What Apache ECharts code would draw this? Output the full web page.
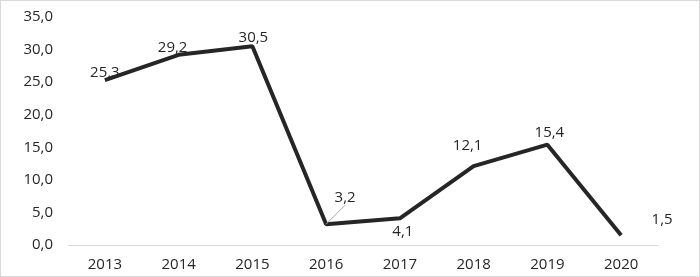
<!DOCTYPE html>
<html>
<head>
<meta charset="utf-8">
<script src="https://cdn.jsdelivr.net/npm/echarts@6.0.0/dist/echarts.min.js"></script>
<style>
  html, body { margin: 0; padding: 0; background: #fff; }
  #chart { width: 698px; height: 275px; border: 1px solid #d9d9d9; }
</style>
</head>
<body>
<div id="chart"></div>
<script>
// данные графика
const years = ['2013', '2014', '2015', '2016', '2017', '2018', '2019', '2020'];
const values = [25.3, 29.2, 30.5, 3.2, 4.1, 12.1, 15.4, 1.5];
// смещения подписей относительно точки
const labelPos = ['top', 'top', 'top', 'top', 'bottom', 'top', 'top', 'top'];
const labelShift = [[0, 5], [-6, 5], [1, 4], [19, -14], [3, 1], [-6, -8], [2, 1], [41, -3]];

const fmt = (v) => v.toFixed(1).replace('.', ',');

const chart = echarts.init(document.getElementById('chart'));

chart.setOption({
  animation: false,
  textStyle: { fontFamily: 'Open Sans', color: '#262626' },
  grid: { left: 67, right: 41, top: 16, bottom: 31 },
  xAxis: {
    type: 'category',
    data: years,
    boundaryGap: true,
    axisLine: { lineStyle: { color: '#d9d9d9', width: 1 } },
    axisTick: { show: false },
    axisLabel: { fontSize: 15, color: '#262626', margin: 12 },
  },
  yAxis: {
    type: 'value',
    min: 0,
    max: 35,
    interval: 5,
    splitLine: { show: false },
    axisLine: { show: false },
    axisTick: { show: false },
    axisLabel: { fontSize: 15, color: '#262626', margin: 15, formatter: fmt },
  },
  series: [
    {
      type: 'line',
      data: values.map((v, i) => ({
        value: v,
        label: { position: labelPos[i] },
        labelLine: { show: i === 3 },
      })),
      symbol: 'circle',
      symbolSize: 0.01,
      itemStyle: { color: 'rgba(0,0,0,0)' },
      lineStyle: { color: '#262626', width: 4 },
      label: {
        show: true,
        fontSize: 15,
        color: '#262626',
        formatter: (p) => fmt(p.value),
      },
      labelLine: { show: false, lineStyle: { color: '#a6a6a6', width: 1 } },
      labelLayout: (p) => ({ dx: labelShift[p.dataIndex][0], dy: labelShift[p.dataIndex][1] }),
    },
  ],
});
</script>
</body>
</html>
